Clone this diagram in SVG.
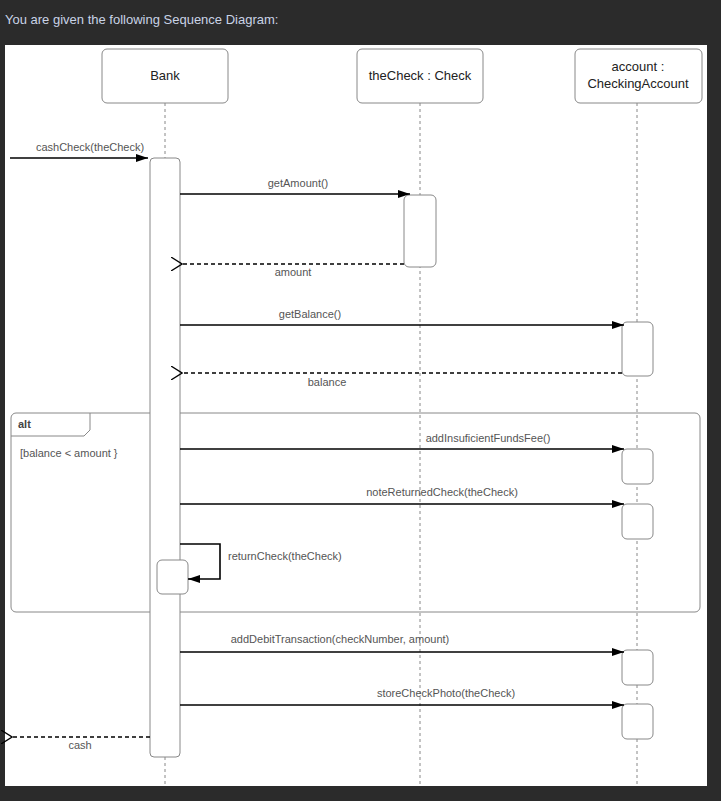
<svg xmlns="http://www.w3.org/2000/svg" width="721" height="801" viewBox="0 0 721 801">
<style>
text{font-family:"Liberation Sans",Arial,sans-serif;font-size:11px;fill:#555}
.h{font-size:13px;fill:#222}
.box{fill:#fff;stroke:#888;stroke-width:1}
.life{stroke:#888;stroke-dasharray:3,3;stroke-width:1}
.m{stroke:#000;stroke-width:1.6;fill:none}
.r{stroke:#000;stroke-width:1.3;stroke-dasharray:4,3;fill:none}
</style>
<defs>
<marker id="f" markerWidth="12" markerHeight="8" refX="12" refY="4" orient="auto" markerUnits="userSpaceOnUse"><path d="M0,0L12,4L0,8z" fill="#000"/></marker>
<marker id="o" markerWidth="12" markerHeight="14" refX="1" refY="7" orient="auto" markerUnits="userSpaceOnUse"><path d="M12,0L1,7L12,14" fill="none" stroke="#000" stroke-width="1.3"/></marker>
</defs>
<rect width="721" height="801" fill="#2b2b2b"/>
<text x="5" y="24" style="font-size:13px;fill:#c9d3e6">You are given the following Sequence Diagram:</text>
<rect x="5" y="45" width="702" height="741" fill="#fff"/>
<g id="lifelines">
<line class="life" x1="165" y1="103" x2="165" y2="785"/>
<line class="life" x1="420" y1="103" x2="420" y2="785"/>
<line class="life" x1="637" y1="103" x2="637" y2="785"/>
</g>
<g id="alt">
<rect x="11" y="413" width="689" height="199" rx="5" fill="none" stroke="#888"/>
<path d="M11,436H84L90,430V413" fill="none" stroke="#888"/>
<text x="18" y="428" style="font-weight:bold;fill:#444">alt</text>
<text x="20" y="457">[balance &lt; amount }</text>
</g>
<g id="bank"><rect class="box" x="102" y="49" width="126" height="54" rx="5"/><text class="h" x="165" y="80" text-anchor="middle">Bank</text></g>
<g id="check"><rect class="box" x="357" y="49" width="126" height="54" rx="5"/><text class="h" x="420" y="80" text-anchor="middle">theCheck : Check</text></g>
<g id="account"><rect class="box" x="575" y="49" width="127" height="54" rx="5"/><text class="h" x="638" y="71" text-anchor="middle">account :</text><text class="h" x="638" y="88" text-anchor="middle">CheckingAccount</text></g>
<g id="activations">
<rect class="box" x="150" y="158" width="30" height="599" rx="4"/>
<rect class="box" x="404" y="195" width="32" height="72" rx="5"/>
<rect class="box" x="622" y="322" width="31" height="54" rx="5"/>
<rect class="box" x="622" y="449" width="31" height="35" rx="5"/>
<rect class="box" x="622" y="504" width="31" height="35" rx="5"/>
<rect class="box" x="157" y="560" width="31" height="34" rx="5"/>
<rect class="box" x="622" y="650" width="31" height="35" rx="5"/>
<rect class="box" x="622" y="704" width="31" height="35" rx="5"/>
</g>
<g id="connectors">
<line class="m" x1="10" y1="158" x2="148" y2="158" marker-end="url(#f)"/>
<line class="m" x1="180" y1="194" x2="410" y2="194" marker-end="url(#f)"/>
<line class="r" x1="404" y1="264" x2="182" y2="264" marker-end="url(#o)"/>
<line class="m" x1="180" y1="325" x2="624" y2="325" marker-end="url(#f)"/>
<line class="r" x1="622" y1="373" x2="182" y2="373" marker-end="url(#o)"/>
<line class="m" x1="180" y1="449" x2="624" y2="449" marker-end="url(#f)"/>
<line class="m" x1="180" y1="504" x2="624" y2="504" marker-end="url(#f)"/>
<path class="m" d="M180,544H220V579H188" marker-end="url(#f)"/>
<line class="m" x1="180" y1="652" x2="624" y2="652" marker-end="url(#f)"/>
<line class="m" x1="180" y1="705" x2="624" y2="705" marker-end="url(#f)"/>
<line class="r" x1="150" y1="737" x2="12" y2="737" marker-end="url(#o)"/>
</g>
<g id="labels">
<text x="90" y="151" text-anchor="middle">cashCheck(theCheck)</text>
<text x="298" y="187" text-anchor="middle">getAmount()</text>
<text x="293" y="276" text-anchor="middle">amount</text>
<text x="310" y="318" text-anchor="middle">getBalance()</text>
<text x="327" y="386" text-anchor="middle">balance</text>
<text x="488" y="442" text-anchor="middle">addInsuficientFundsFee()</text>
<text x="442" y="496" text-anchor="middle">noteReturnedCheck(theCheck)</text>
<text x="228" y="560">returnCheck(theCheck)</text>
<text x="340" y="643" text-anchor="middle">addDebitTransaction(checkNumber, amount)</text>
<text x="446" y="697" text-anchor="middle">storeCheckPhoto(theCheck)</text>
<text x="80" y="749" text-anchor="middle">cash</text>
</g>
</svg>
